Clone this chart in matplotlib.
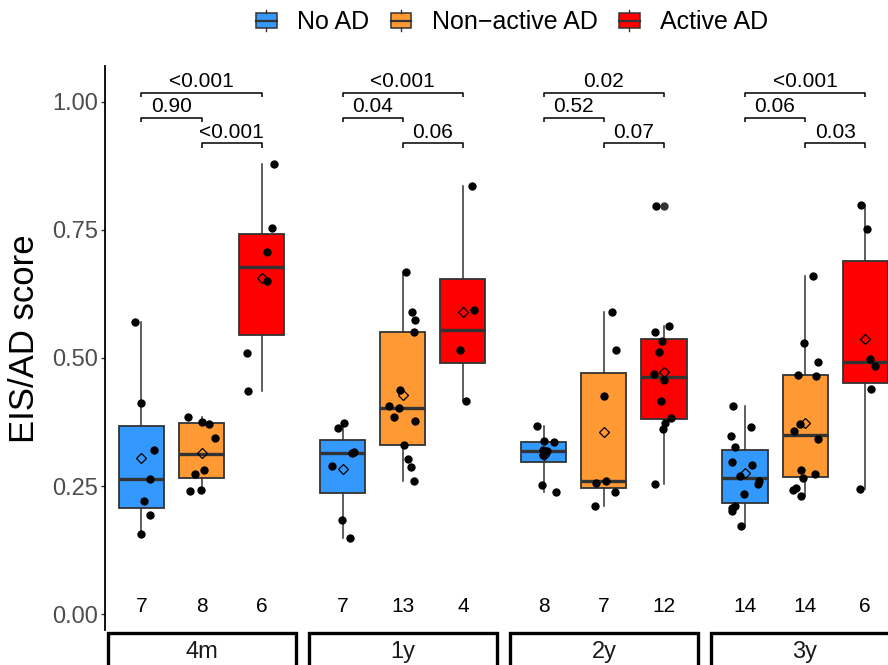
import matplotlib
matplotlib.use("Agg")
import matplotlib.pyplot as plt
from matplotlib.patches import Rectangle, Patch
from matplotlib.lines import Line2D
from matplotlib.legend_handler import HandlerBase
import numpy as np

plt.rcParams['font.family'] = ['Liberation Sans', 'DejaVu Sans']

# ---------------- data ----------------
periods = ['4m', '1y', '2y', '3y']
groups = ['No AD', 'Non\u2212active AD', 'Active AD']
colors = ['#3399FF', '#FF9933', '#FF0000']

no_ad_4m = [0.570, 0.412, 0.321, 0.264, 0.221, 0.194, 0.157]
non_ad_4m = [0.385, 0.376, 0.372, 0.344, 0.282, 0.273, 0.240, 0.242]
act_ad_4m = [0.879, 0.753, 0.706, 0.650, 0.510, 0.436]

no_ad_1y = [0.374, 0.363, 0.315, 0.317, 0.290, 0.183, 0.149]
non_ad_1y = [0.668, 0.589, 0.575, 0.551, 0.437, 0.407, 0.403, 0.385, 0.377,
             0.331, 0.303, 0.288, 0.260]
act_ad_1y = [0.835, 0.594, 0.516, 0.416]

no_ad_2y = [0.368, 0.339, 0.336, 0.320, 0.318, 0.311, 0.253, 0.238]
non_ad_2y = [0.590, 0.515, 0.425, 0.261, 0.256, 0.238, 0.211]
act_ad_2y = [0.796, 0.562, 0.551, 0.533, 0.512, 0.468, 0.457, 0.416, 0.383,
             0.373, 0.362, 0.255]

no_ad_3y = [0.407, 0.366, 0.347, 0.327, 0.298, 0.292, 0.269, 0.261, 0.255,
            0.234, 0.211, 0.207, 0.201, 0.172]
non_ad_3y = [0.660, 0.530, 0.493, 0.467, 0.464, 0.371, 0.357, 0.342, 0.281,
             0.274, 0.266, 0.246, 0.242, 0.230]
act_ad_3y = [0.799, 0.752, 0.498, 0.485, 0.439, 0.244]

# horizontal jitter (category units)
jit_no_4m = [-0.10, -0.01, 0.21, 0.15, 0.04, 0.15, -0.01]
jit_non_4m = [-0.22, 0.01, 0.13, 0.23, 0.04, -0.11, -0.19, -0.01]
jit_act_4m = [0.21, 0.17, 0.09, 0.09, -0.25, -0.23]
jit_no_1y = [0.02, -0.07, 0.15, 0.19, -0.18, -0.01, 0.13]
jit_non_1y = [0.06, 0.15, 0.20, 0.18, -0.04, -0.22, -0.06, -0.15, 0.21, 0.02,
              0.09, 0.13, 0.18]
jit_act_1y = [0.145, 0.18, -0.04, 0.06]
jit_no_2y = [-0.12, 0.01, 0.17, -0.01, 0.05, -0.02, -0.03, 0.20]
jit_non_2y = [0.14, 0.20, 0.0, 0.03, -0.13, 0.18, -0.14]
jit_act_2y = [-0.13, 0.09, -0.15, -0.03, -0.08, -0.17, 0.0, -0.05, 0.12, 0.01,
              -0.01, -0.15]
jit_no_3y = [-0.20, 0.10, -0.23, -0.17, -0.22, 0.12, -0.08, 0.24, 0.21, -0.02,
             -0.17, -0.22, -0.21, -0.07]
jit_non_3y = [0.14, -0.02, 0.22, -0.12, 0.19, -0.09, -0.19, 0.22, -0.07, 0.17,
              -0.03, -0.15, -0.20, -0.07]
jit_act_3y = [-0.07, 0.03, 0.08, 0.17, 0.10, -0.09]

# p-values: [No vs Active, No vs Non-active, Non-active vs Active]
p_4m = ['<0.001', '0.90', '<0.001']
p_1y = ['<0.001', '0.04', '0.06']
p_2y = ['0.02', '0.52', '0.07']
p_3y = ['<0.001', '0.06', '0.03']

yticks = [0.00, 0.25, 0.50, 0.75, 1.00]
ytick_labels = ['0.00', '0.25', '0.50', '0.75', '1.00']

values = {
    '4m': [no_ad_4m, non_ad_4m, act_ad_4m],
    '1y': [no_ad_1y, non_ad_1y, act_ad_1y],
    '2y': [no_ad_2y, non_ad_2y, act_ad_2y],
    '3y': [no_ad_3y, non_ad_3y, act_ad_3y],
}
jitters = {
    '4m': [jit_no_4m, jit_non_4m, jit_act_4m],
    '1y': [jit_no_1y, jit_non_1y, jit_act_1y],
    '2y': [jit_no_2y, jit_non_2y, jit_act_2y],
    '3y': [jit_no_3y, jit_non_3y, jit_act_3y],
}
pvals = {'4m': p_4m, '1y': p_1y, '2y': p_2y, '3y': p_3y}

# ---------------- layout ----------------
W, H = 888, 665
fig = plt.figure(figsize=(W / 100, H / 100), dpi=100)


def px_axes(left, top, width, height):
    return fig.add_axes([left / W, 1 - (top + height) / H, width / W, height / H])


panel_left0, panel_step, panel_w = 105.4, 201.17, 192.3
panel_top, panel_bottom = 66, 630
y_zero_px, y_one_px = 614.3, 101.7
ppu = y_zero_px - y_one_px
ylim = ((y_zero_px - panel_bottom) / ppu, (y_zero_px - panel_top) / ppu)

bracket_levels = [1.0176, 0.9688, 0.919]
bracket_pairs = [(1, 3), (1, 2), (2, 3)]
tick_len = 0.0084
edge = '#333333'

for i, per in enumerate(periods):
    left = panel_left0 + panel_step * i
    ax = px_axes(left, panel_top, panel_w, panel_bottom - panel_top)

    data = values[per]
    pos = [1, 2, 3]
    bp = ax.boxplot(data, positions=pos, widths=0.75, patch_artist=True,
                    showcaps=False, showmeans=True, whis=1.5,
                    manage_ticks=False,
                    meanprops=dict(marker='D', markerfacecolor='none',
                                   markeredgecolor='black', markersize=5.5,
                                   markeredgewidth=0.9),
                    medianprops=dict(color=edge, linewidth=2.4),
                    boxprops=dict(edgecolor=edge, linewidth=1.3),
                    whiskerprops=dict(color=edge, linewidth=1.1),
                    flierprops=dict(marker='o', markerfacecolor=edge,
                                    markeredgecolor=edge, markersize=6,
                                    markeredgewidth=0))
    for patch, c in zip(bp['boxes'], colors):
        patch.set_facecolor(c)

    for p, v, j in zip(pos, data, jitters[per]):
        ax.scatter(np.array(j) + p, v, s=36, color='black', linewidths=0,
                   zorder=5)
        ax.text(p, 0.016, str(len(v)), ha='center', va='center', fontsize=15,
                color='black')

    for (a, b), yl, lab in zip(bracket_pairs, bracket_levels, pvals[per]):
        ax.plot([a, a, b, b], [yl - tick_len, yl, yl, yl - tick_len],
                color='black', lw=1.1, clip_on=False, solid_capstyle='butt')
        ax.annotate(lab, xy=((a + b) / 2, yl), xytext=(0, 4.0),
                    textcoords='offset points', ha='center', va='baseline',
                    fontsize=15, annotation_clip=False)

    ax.set_xlim(0.4, 3.6)
    ax.set_ylim(*ylim)
    for s in ['top', 'right', 'bottom', 'left']:
        ax.spines[s].set_visible(False)
    ax.set_xticks([])
    if i == 0:
        ax.spines['left'].set_visible(True)
        ax.spines['left'].set_linewidth(1.3)
        ax.spines['left'].set_color('black')
        ax.set_yticks(yticks)
        ax.set_yticklabels(ytick_labels)
        ax.tick_params(axis='y', length=3.2, width=1.0, color=edge,
                       labelcolor='#4D4D4D', labelsize=17, pad=2)
    else:
        ax.set_yticks([])

    # strip at bottom
    sax = px_axes(left + 2.1, 632.5, panel_w - 4.2, 40)
    sax.set_axis_off()
    sax.add_patch(Rectangle((0, 0), 1, 1, transform=sax.transAxes,
                            facecolor='white', edgecolor='black', lw=2.4,
                            clip_on=False))
    sax.text(0.5, 1 - 19.5 / 40, per, transform=sax.transAxes, ha='center',
             va='center', fontsize=17, color='#1A1A1A')

fig.text(25 / W, 1 - 339 / H, 'EIS/AD score', rotation=90, ha='center',
         va='center', fontsize=25)


class BoxKey(HandlerBase):
    def create_artists(self, legend, orig_handle, xdescent, ydescent, width,
                       height, fontsize, trans):
        fc = orig_handle.get_facecolor()
        x0, y0 = -xdescent, -ydescent
        cx, cy = x0 + width / 2, y0 + height / 2
        bw, bh = width * 0.95, height * 0.72
        rect = Rectangle((cx - bw / 2, cy - bh / 2), bw, bh, facecolor=fc,
                         edgecolor=edge, lw=1.1, transform=trans)
        med = Line2D([cx - bw / 2, cx + bw / 2], [cy, cy], color=edge, lw=1.6,
                     transform=trans)
        w1 = Line2D([cx, cx], [y0, cy - bh / 2], color=edge, lw=1.0,
                    transform=trans)
        w2 = Line2D([cx, cx], [cy + bh / 2, y0 + height], color=edge, lw=1.0,
                    transform=trans)
        return [rect, med, w1, w2]


handles = [Patch(facecolor=c) for c in colors]
fig.legend(handles, groups, loc='center', bbox_to_anchor=(512 / W, 1 - 22 / H),
           ncol=3, frameon=False, fontsize=18, handlelength=0.85,
           handleheight=0.95, handletextpad=0.8, columnspacing=0.85,
           borderpad=0, handler_map={Patch: BoxKey()})

fig.savefig('out.png', dpi=100)
